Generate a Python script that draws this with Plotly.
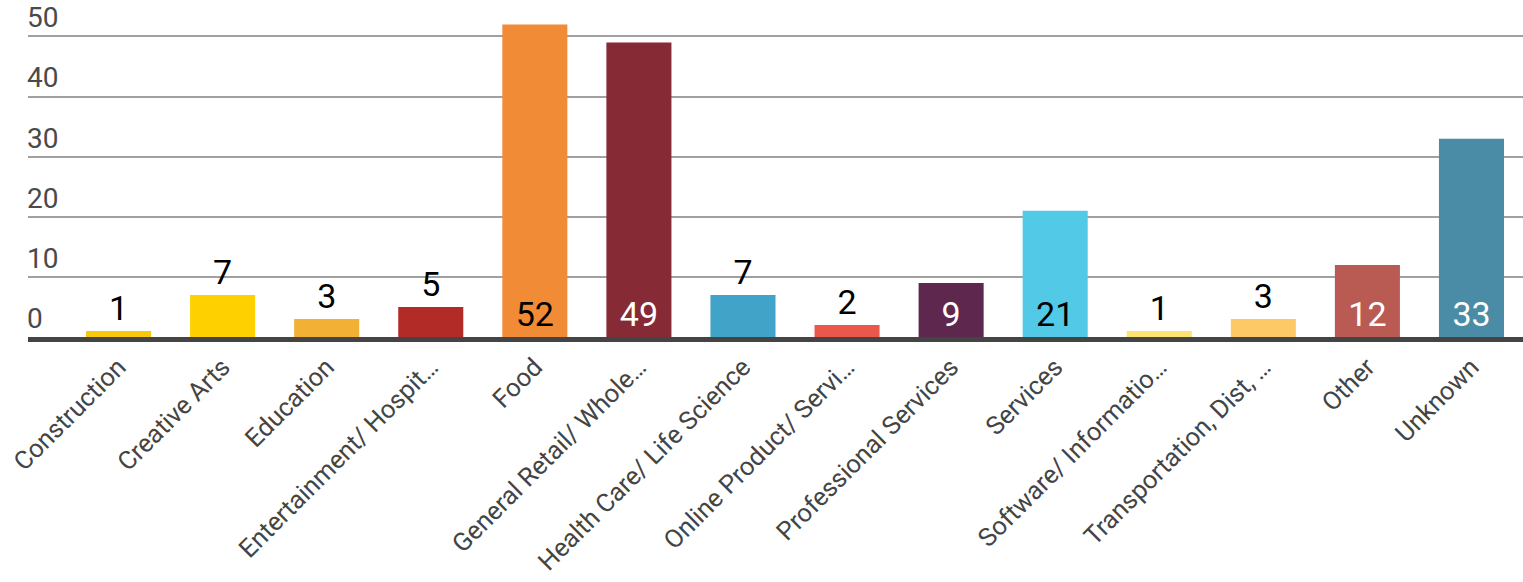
import plotly.graph_objects as go

categories = [
    "Construction", "Creative Arts", "Education", "Entertainment/ Hospit…",
    "Food", "General Retail/ Whole…", "Health Care/ Life Science",
    "Online Product/ Servi…", "Professional Services", "Services",
    "Software/ Informatio…", "Transportation, Dist, …", "Other", "Unknown",
]
values = [1, 7, 3, 5, 52, 49, 7, 2, 9, 21, 1, 3, 12, 33]
bar_colors = [
    "#F7C80C", "#FFD000", "#F2B035", "#B22B26", "#F28B35", "#862A35",
    "#41A3C7", "#E8584D", "#5E274E", "#52C9E7", "#FDE36F", "#FDC866",
    "#BA5B53", "#4A8BA5",
]
label_pos = ["outside", "outside", "outside", "outside", "inside", "inside",
             "outside", "outside", "inside", "inside", "outside", "outside",
             "inside", "inside"]
label_colors = ["#000000", "#000000", "#000000", "#000000", "#000000", "#FFFFFF",
                "#000000", "#000000", "#FFFFFF", "#000000", "#000000", "#000000",
                "#FFFFFF", "#FFFFFF"]
y_ticks = [0, 10, 20, 30, 40, 50]

x_idx = list(range(len(categories)))

fig = go.Figure(
    go.Bar(
        x=x_idx,
        y=values,
        marker=dict(color=bar_colors, line=dict(width=0)),
        text=[str(v) for v in values],
        textposition=label_pos,
        insidetextanchor="start",
        textfont=dict(family="Roboto", size=34, color=label_colors),
        constraintext="none",
        cliponaxis=False,
        hoverinfo="skip",
    )
)

fig.update_layout(
    width=1523,
    height=582,
    margin=dict(l=28, r=0, t=0, b=245),
    paper_bgcolor="white",
    plot_bgcolor="white",
    bargap=0.375,
    showlegend=False,
    font=dict(family="Roboto", color="#444444"),
)

fig.update_xaxes(
    range=[-0.87, 13.495],
    tickmode="array",
    tickvals=x_idx,
    ticktext=categories,
    tickangle=-45,
    tickfont=dict(family="Roboto", size=25.5, color="#444444"),
    showgrid=False,
    zeroline=False,
    showline=True,
    linewidth=5,
    linecolor="#444444",
    ticks="",
    automargin=False,
)

fig.update_yaxes(
    range=[0, 56.07],
    tickmode="array",
    tickvals=y_ticks,
    ticktext=[str(t) for t in y_ticks],
    ticklabelposition="inside",
    ticklabelshift=-19,
    ticklabelstandoff=-4,
    tickfont=dict(family="Roboto", size=28, color="#4a4a4a"),
    showgrid=True,
    gridcolor="#A0A0A0",
    gridwidth=2,
    zeroline=False,
    showline=False,
    ticks="",
    automargin=False,
)

fig.write_html("out.html")
